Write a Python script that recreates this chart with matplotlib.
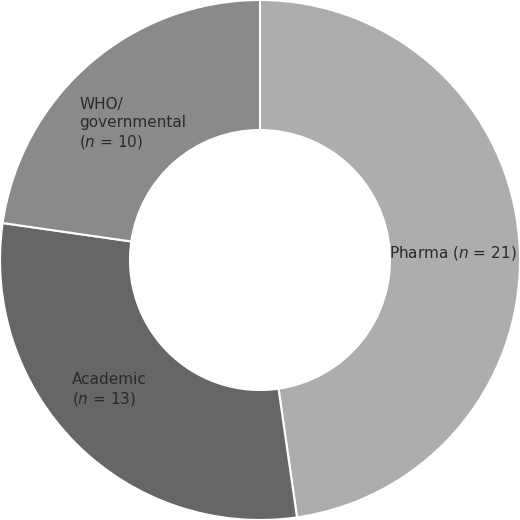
import matplotlib
matplotlib.use("Agg")
import matplotlib.pyplot as plt

categories = ["Pharma", "Academic", "WHO/\ngovernmental"]
counts = [21, 13, 10]
colours = ["#adadad", "#666666", "#8a8a8a"]

fig = plt.figure(figsize=(5.2, 5.2), dpi=100)
ax = fig.add_axes([0, 0, 1, 1])

wedges, _ = ax.pie(counts, colors=colours, startangle=90, counterclock=False,
                   radius=1.0, wedgeprops=dict(width=0.5, edgecolor="white", linewidth=1.5))

# labels placed by hand in data coords
label_pos = [(0.496, 0.06), (-0.725, -0.43), (-0.695, 0.625)]
for cat, n, (x, y) in zip(categories, counts, label_pos):
    if cat == "Pharma":
        txt = cat + " ($n$ = %d)" % n
    else:
        txt = cat + "\n($n$ = %d)" % n
    ax.text(x, y, txt, ha="left", va="top", fontsize=11, color="#2a2a2a",
            linespacing=1.2)

ax.set_xlim(-1, 1)
ax.set_ylim(-1, 1)
ax.set_aspect("equal")
ax.axis("off")

fig.savefig("out.png", dpi=100)
